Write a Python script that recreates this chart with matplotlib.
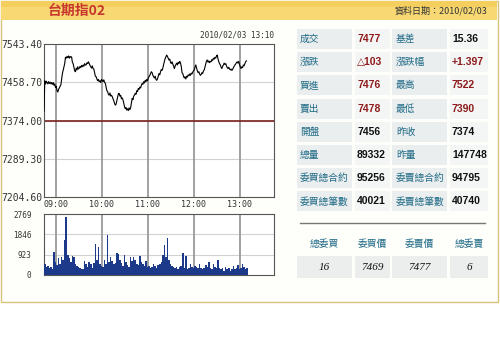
import numpy as np
import matplotlib
matplotlib.use('Agg')
import matplotlib.pyplot as plt
from matplotlib.patches import Rectangle

# ---- data ----
title = '台期指02'
data_date = '資料日期：2010/02/03'
stamp = '2010/02/03 13:10'

# one price per minute starting 08:45
prices = [7395, 7462, 7455, 7461, 7458, 7455, 7460, 7456, 7459, 7455, 7458, 7454, 7458, 7452, 7455,
          7447, 7450, 7440, 7437, 7443, 7446, 7450, 7453, 7466, 7478, 7485, 7493, 7500, 7514, 7512,
          7516, 7513, 7517, 7512, 7516, 7514, 7515, 7503, 7500, 7492, 7484, 7482, 7490, 7486, 7493,
          7488, 7490, 7494, 7491, 7496, 7493, 7497, 7494, 7500, 7497, 7497, 7502, 7500, 7504, 7500,
          7496, 7493, 7490, 7495, 7489, 7488, 7480, 7472, 7471, 7466, 7462, 7465, 7460, 7462, 7458,
          7465, 7463, 7460, 7464, 7459, 7456, 7448, 7440, 7438, 7432, 7430, 7435, 7428, 7430, 7427,
          7422, 7418, 7412, 7408, 7410, 7418, 7426, 7433, 7434, 7428, 7430, 7422, 7424, 7420, 7412,
          7405, 7400, 7403, 7397, 7400, 7396, 7402, 7398, 7402, 7412, 7423, 7420, 7428, 7430, 7434,
          7432, 7440, 7438, 7445, 7443, 7448, 7446, 7452, 7456, 7454, 7460, 7457, 7463, 7460, 7465,
          7462, 7468, 7471, 7474, 7478, 7482, 7480, 7474, 7471, 7468, 7472, 7465, 7463, 7466, 7472,
          7478, 7475, 7482, 7487, 7485, 7490, 7498, 7505, 7511, 7515, 7519, 7516, 7512, 7508, 7510,
          7503, 7500, 7504, 7499, 7495, 7489, 7494, 7498, 7501, 7497, 7503, 7500, 7505, 7502, 7494,
          7480, 7478, 7472, 7468, 7471, 7466, 7472, 7470, 7475, 7473, 7477, 7474, 7479, 7477, 7481,
          7484, 7486, 7492, 7497, 7490, 7484, 7480, 7482, 7477, 7474, 7476, 7480, 7478, 7484, 7486,
          7493, 7500, 7506, 7508, 7503, 7506, 7502, 7505, 7504, 7509, 7507, 7512, 7510, 7514, 7512,
          7517, 7519, 7510, 7504, 7500, 7497, 7492, 7489, 7494, 7497, 7501, 7498, 7500, 7495, 7491,
          7489, 7492, 7488, 7486, 7488, 7485, 7487, 7491, 7494, 7497, 7499, 7502, 7504, 7501, 7505,
          7498, 7493, 7489, 7493, 7491, 7497, 7495, 7500, 7504, 7506]

# volume per 2 minutes starting 08:45
volumes = [500, 350, 420, 300, 380, 250, 1030, 600, 450, 780, 500, 820, 700, 1600, 2650,
           900, 780, 600, 850, 820, 500, 400, 350, 300, 250, 280, 650, 500, 350, 600,
           480, 300, 550, 1390, 700, 1260, 500, 400, 350, 700, 500, 1815, 600, 820, 650,
           500, 550, 1000, 950, 700, 550, 400, 900, 600, 450, 350, 800, 650, 820, 700,
           500, 450, 850, 600, 500, 400, 650, 350, 400, 300, 350, 500, 400, 300, 450,
           500, 600, 900, 1360, 800, 1665, 700, 500, 400, 350, 300, 380, 280, 350, 400,
           1000, 300, 850, 250, 300, 500, 350, 300, 420, 350, 300, 500, 300, 250, 300,
           450, 350, 600, 300, 280, 500, 350, 300, 700, 300, 250, 300, 200, 350, 250,
           300, 200, 280, 400, 250, 300, 450, 250, 300, 500, 350, 250, 300]

prev_close = 7374.0
price_ticks = [7204.6, 7289.3, 7374.0, 7458.7, 7543.4]
vol_ticks = [0, 923, 1846, 2769]
hour_ticks = [9, 10, 11, 12, 13]
hour_labels = ['09:00', '10:00', '11:00', '12:00', '13:00']

left_labels = ['成交', '漲跌', '買進', '賣出', '開盤', '總量', '委買總合約', '委買總筆數']
left_values = ['7477', '△103', '7476', '7478', '7456', '89332', '95256', '40021']
left_red = [1, 1, 1, 1, 0, 0, 0, 0]
right_labels = ['基差', '漲跌幅', '最高', '最低', '昨收', '昨量', '委賣總合約', '委賣總筆數']
right_values = ['15.36', '+1.397', '7522', '7390', '7374', '147748', '94795', '40740']
right_red = [0, 1, 1, 1, 0, 0, 0, 0]
order_heads = ['總委買', '委買價', '委賣價', '總委賣']
order_values = ['16', '7469', '7477', '6']

CJK = ['Noto Sans CJK TC', 'DejaVu Sans']
TEAL = '#1f6a86'
RED = '#8e1b1b'
W, H = 500, 346

fig = plt.figure(figsize=(W / 100, H / 100), dpi=100)
fig.patch.set_facecolor('white')

# background in pixel coords
bg = fig.add_axes([0, 0, 1, 1])
bg.set_xlim(0, W)
bg.set_ylim(H, 0)
bg.axis('off')
bg.add_patch(Rectangle((0.5, 0.5), 497, 301.5, facecolor='#fefefb', edgecolor='#d6c47c', lw=1))
bg.add_patch(Rectangle((1, 1), 496, 19, facecolor='#f7d873', edgecolor='none'))
bg.add_patch(Rectangle((1, 1), 496, 6, facecolor='#f4cf5e', edgecolor='none'))
bg.text(48, 11, title, fontsize=10, fontweight='bold', color='#c8372d', family=CJK, va='center')
bg.text(487, 11, data_date, fontsize=6.5, color='#333333', family=CJK, va='center', ha='right')
bg.text(274, 35, stamp, fontsize=5.6, color='#333333', family='DejaVu Sans Mono', va='center', ha='right')

# info table
cols = [(297, 352), (355, 390), (392, 447), (450, 488)]
for i in range(len(left_labels)):
    yc = 39 + i * 23.2
    for j, (x0, x1) in enumerate(cols):
        fc = '#eaeeee' if j % 2 == 0 else '#f4f6f6'
        bg.add_patch(Rectangle((x0, yc - 10), x1 - x0, 20, facecolor=fc, edgecolor='none'))
    bg.text(300, yc, left_labels[i], fontsize=7, color=TEAL, family=CJK, va='center')
    bg.text(396, yc, right_labels[i], fontsize=7, color=TEAL, family=CJK, va='center')
    bg.text(357, yc, left_values[i], fontsize=7.5, fontweight='bold', family=['Liberation Sans', 'DejaVu Sans'],
            color=RED if left_red[i] else '#111111', va='center')
    bg.text(452, yc, right_values[i], fontsize=7.5, fontweight='bold', family=['Liberation Sans', 'DejaVu Sans'],
            color=RED if right_red[i] else '#111111', va='center')

bg.plot([300, 485], [222.5, 222.5], color='#777777', lw=1)
for j, (x0, x1) in enumerate(cols):
    xc = (x0 + x1) / 2
    bg.add_patch(Rectangle((x0, 256), x1 - x0, 22, facecolor='#eceeee', edgecolor='none'))
    bg.text(xc, 244, order_heads[j], fontsize=7, color=TEAL, family=CJK, va='center', ha='center')
    bg.text(xc, 267, order_values[j], fontsize=8, color='#111111', family='Liberation Serif',
            style='italic', va='center', ha='center')

# price chart
t_price = 8.75 + np.arange(len(prices)) / 60.0
ax = fig.add_axes([44 / W, 1 - 197 / H, 230 / W, 153 / H])
ax.set_facecolor('white')
ax.set_xlim(8.75, 13.75)
ax.set_ylim(price_ticks[0], price_ticks[-1])
ax.set_yticks(price_ticks)
ax.set_yticklabels(['%.2f' % v for v in price_ticks])
ax.set_xticks(hour_ticks)
ax.set_xticklabels(hour_labels)
for v in price_ticks[1:-1]:
    ax.axhline(v, color='#d2d2d2', lw=0.8, zorder=1)
for h in hour_ticks:
    ax.axvline(h, color='#9a9a9a', lw=1.3, zorder=1)
ax.axhline(prev_close, color='#7a1f1f', lw=1.2, zorder=2)
ax.plot(t_price, prices, color='black', lw=0.8, zorder=3)
ax.tick_params(length=0, pad=1)
ax.tick_params(axis='y', labelsize=7)
ax.tick_params(axis='x', labelsize=6, pad=2)
for lab in ax.get_xticklabels() + ax.get_yticklabels():
    lab.set_family('DejaVu Sans Mono')
    lab.set_color('#333333')
for s in ax.spines.values():
    s.set_color('#555555')
    s.set_linewidth(0.8)

# volume chart
t_vol = 8.75 + np.arange(len(volumes)) * 2 / 60.0
av = fig.add_axes([44 / W, 1 - 275 / H, 230 / W, 61 / H])
av.set_facecolor('white')
av.set_xlim(8.75, 13.75)
av.set_ylim(0, vol_ticks[-1])
av.set_yticks(vol_ticks)
av.set_yticklabels([str(v) for v in vol_ticks])
av.set_xticks([])
for v in vol_ticks[1:-1]:
    av.axhline(v, color='#d2d2d2', lw=0.8, zorder=1)
for h in hour_ticks:
    av.axvline(h, color='#9a9a9a', lw=1.3, zorder=1)
av.bar(t_vol, volumes, width=2 / 60.0, align='edge', color='#1d3a8a', edgecolor='none', zorder=3)
av.tick_params(length=0, pad=9, labelsize=5.5)
for lab in av.get_yticklabels():
    lab.set_family('DejaVu Sans Mono')
    lab.set_color('#333333')
for s in av.spines.values():
    s.set_color('#555555')
    s.set_linewidth(0.8)

fig.savefig('out.png', dpi=100)
